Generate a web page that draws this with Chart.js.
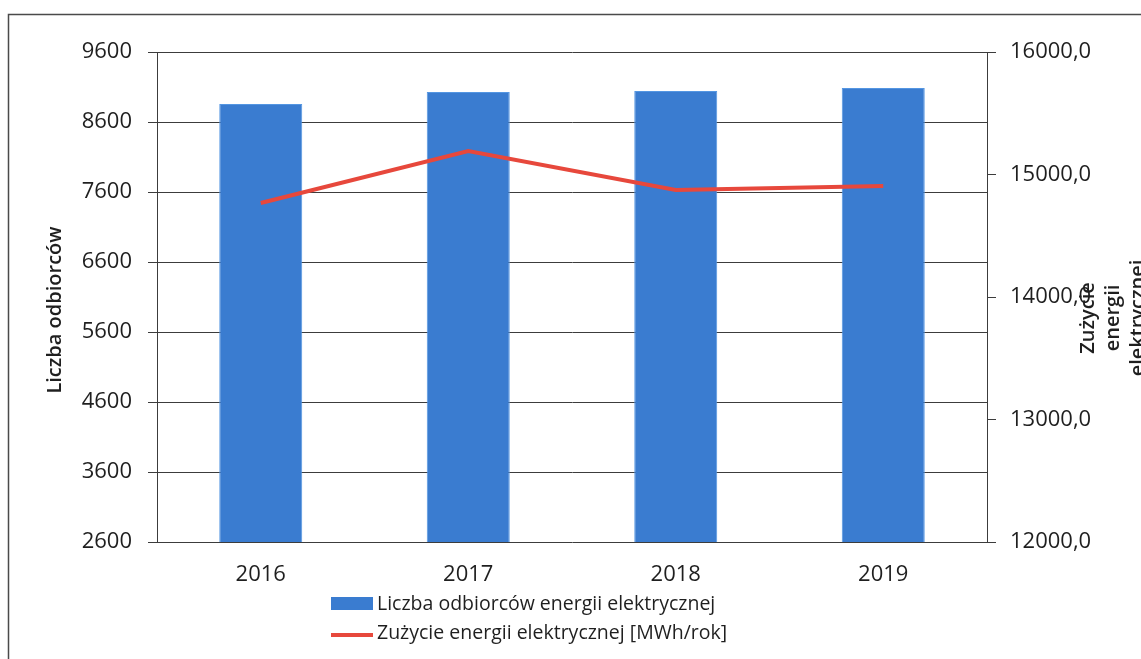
<!DOCTYPE html>
<html>
<head>
<meta charset="utf-8">
<script src="https://cdn.jsdelivr.net/npm/chart.js@4.4.1/dist/chart.umd.min.js"></script>
<style>
  html, body { margin: 0; padding: 0; background: #fff; }
  #wrap { width: 1141px; height: 659px; position: relative; }
</style>
</head>
<body>
<div id="wrap"><canvas id="c"></canvas></div>
<script>
// Years on the category axis
const years = ['2016', '2017', '2018', '2019'];
// Number of electricity customers (left axis)
const customers = [8857, 9029, 9043, 9086];
// Electricity consumption in MWh per year (right axis)
const consumption = [14767, 15192, 14873, 14906];
// Axis tick values
const leftTicks = [2600, 3600, 4600, 5600, 6600, 7600, 8600, 9600];
const rightTicks = [12000, 13000, 14000, 15000, 16000];

const customersName = 'Liczba odbiorców energii elektrycznej';
const consumptionName = 'Zużycie energii elektrycznej [MWh/rok]';
const leftTitle = 'Liczba odbiorców';
const rightTitle = ['Zużycie', 'energii', 'elektrycznej'];

const FONT = '"Open Sans", "Noto Sans", sans-serif';
const INK = '#1f1f1f';
const GRID = '#3c3c3c';
const BAR = 'rgb(58,124,208)';
const BAR_EDGE = 'rgb(84,150,226)';
const LINE = 'rgb(231,72,60)';

// Frame, axis titles and stacked legend
const decor = {
  id: 'decor',
  beforeDraw(chart) {
    const ctx = chart.ctx;
    ctx.save();
    ctx.strokeStyle = '#4a4a4a';
    ctx.lineWidth = 1.5;
    ctx.beginPath();
    ctx.moveTo(8.5, 659);
    ctx.lineTo(8.5, 14.5);
    ctx.lineTo(1141, 14.5);
    ctx.stroke();
    ctx.restore();
  },
  afterDraw(chart) {
    const ctx = chart.ctx;
    ctx.save();
    ctx.fillStyle = INK;
    ctx.textAlign = 'center';
    ctx.textBaseline = 'middle';

    // left axis title
    ctx.save();
    ctx.translate(55, 310);
    ctx.rotate(-Math.PI / 2);
    ctx.font = '600 20px ' + FONT;
    ctx.fillText(leftTitle, 0, 0);
    ctx.restore();

    // right axis title, one column per line
    ctx.font = '600 20px ' + FONT;
    rightTitle.forEach((t, i) => {
      ctx.save();
      ctx.translate(1088 + i * 25, 318);
      ctx.rotate(-Math.PI / 2);
      ctx.fillText(t, 0, 0);
      ctx.restore();
    });

    // legend, stacked vertically
    const ds = chart.data.datasets;
    const bar = ds.find(d => d.type === 'bar');
    const line = ds.find(d => d.type === 'line');
    ctx.textAlign = 'left';
    ctx.font = '19.5px ' + FONT;
    const x0 = 331, x1 = 373;
    ctx.fillStyle = bar.backgroundColor;
    ctx.fillRect(x0, 597, x1 - x0, 13);
    ctx.fillStyle = INK;
    ctx.fillText(bar.label, 377, 604);
    ctx.strokeStyle = line.borderColor;
    ctx.lineWidth = 4;
    ctx.beginPath();
    ctx.moveTo(x0, 635);
    ctx.lineTo(x1, 635);
    ctx.stroke();
    ctx.fillText(line.label, 377, 633);
    ctx.restore();
  }
};

new Chart(document.getElementById('c'), {
  data: {
    labels: years,
    datasets: [
      {
        type: 'line',
        label: consumptionName,
        data: consumption,
        yAxisID: 'yR',
        borderColor: LINE,
        borderWidth: 4,
        pointRadius: 0,
        tension: 0,
        order: 0
      },
      {
        type: 'bar',
        label: customersName,
        data: customers,
        yAxisID: 'yL',
        backgroundColor: BAR,
        borderColor: BAR_EDGE,
        borderWidth: 1,
        barPercentage: 0.4,
        categoryPercentage: 1.0,
        order: 1
      }
    ]
  },
  options: {
    responsive: true,
    maintainAspectRatio: false,
    animation: false,
    layout: { padding: { top: 52, left: 0, right: 0, bottom: 0 } },
    plugins: {
      legend: { display: false },
      tooltip: { enabled: false }
    },
    scales: {
      x: {
        grid: { display: false, drawTicks: false },
        border: { display: false },
        ticks: { color: INK, font: { family: FONT, size: 22 }, padding: 20 },
        afterFit(s) { s.height = 117; }
      },
      yL: {
        position: 'left',
        min: leftTicks[0],
        max: leftTicks[leftTicks.length - 1],
        afterBuildTicks(s) { s.ticks = leftTicks.map(v => ({ value: v })); },
        grid: { color: GRID, lineWidth: 1, tickLength: 9, drawTicks: true },
        border: { display: true, color: GRID, width: 1 },
        ticks: {
          color: INK, font: { family: FONT, size: 22 }, padding: 16,
          callback: v => String(v)
        },
        afterFit(s) { s.width = 157; }
      },
      yR: {
        position: 'right',
        min: rightTicks[0],
        max: rightTicks[rightTicks.length - 1],
        afterBuildTicks(s) { s.ticks = rightTicks.map(v => ({ value: v })); },
        grid: { drawOnChartArea: false, color: GRID, tickLength: 9, drawTicks: true },
        border: { display: true, color: GRID, width: 1 },
        ticks: {
          color: INK, font: { family: FONT, size: 22 }, padding: 14,
          callback: v => v.toFixed(1).replace('.', ',')
        },
        afterFit(s) { s.width = 154; }
      }
    }
  },
  plugins: [decor]
});
</script>
</body>
</html>
